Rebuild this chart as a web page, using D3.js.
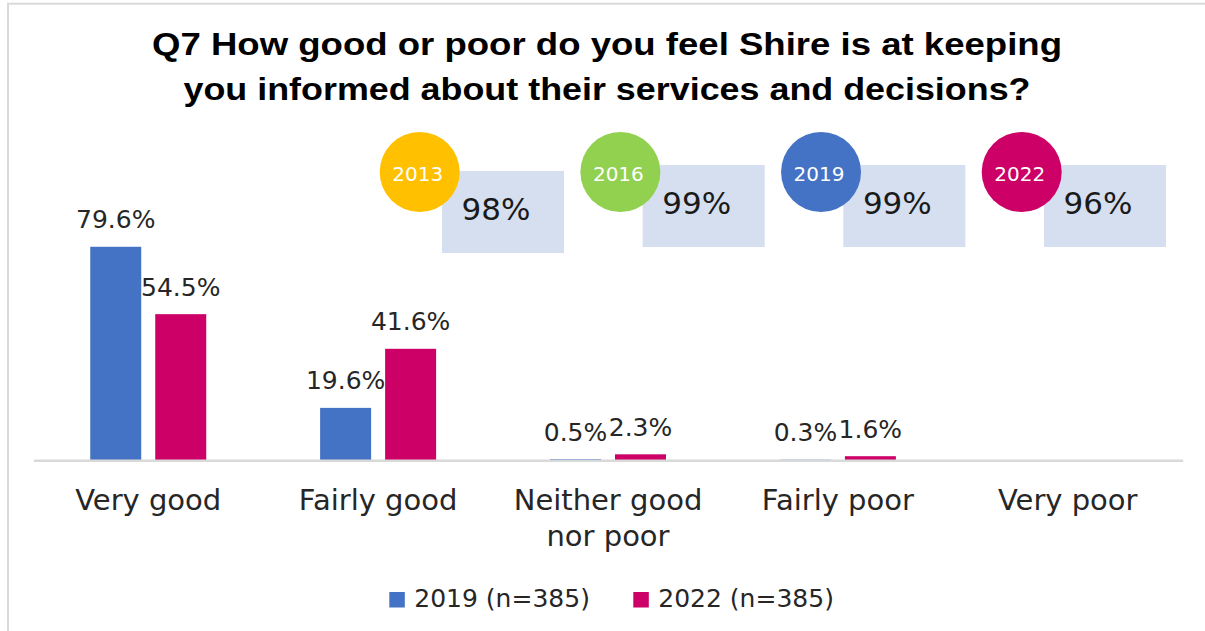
<!DOCTYPE html>
<html>
<head>
<meta charset="utf-8">
<script src="https://cdn.jsdelivr.net/npm/d3@7/dist/d3.min.js"></script>
<style>
  html, body { margin: 0; padding: 0; background: #fff; }
  svg { display: block; }
  text { font-family: "DejaVu Sans", "Noto Sans", sans-serif; }
</style>
</head>
<body>
<svg id="chart" width="1205" height="631"></svg>
<script>
// Survey responses, % of respondents
const categories = ["Very good", "Fairly good", "Neither good\nnor poor", "Fairly poor", "Very poor"];
const seriesNames = ["2019 (n=385)", "2022 (n=385)"];
const values2019 = [79.6, 19.6, 0.5, 0.3, null];
const values2022 = [54.5, 41.6, 2.3, 1.6, null];
const seriesColors = ["#4472C4", "#CC0066"];

// Share rating "good" overall, by survey year
const years = ["2013", "2016", "2019", "2022"];
const goodShare = [98, 99, 99, 96];
const yearColors = ["#FFC000", "#92D050", "#4472C4", "#CC0066"];

const titleLines = [
  "Q7 How good or poor do you feel Shire is at keeping",
  "you informed about their services and decisions?"
];

const svg = d3.select("#chart");
const W = 1205, H = 631;

// outer frame
svg.append("rect")
  .attr("x", 8).attr("y", 3.7)
  .attr("width", W + 20).attr("height", H + 20)
  .attr("fill", "#fff")
  .attr("stroke", "#d9d9d9").attr("stroke-width", 2);

// title
const titleWidths = [910, 847];
svg.append("g").selectAll("text")
  .data(titleLines)
  .join("text")
  .attr("x", 607)
  .attr("y", (d, i) => 55 + i * 45)
  .attr("text-anchor", "middle")
  .attr("textLength", (d, i) => titleWidths[i])
  .attr("lengthAdjust", "spacingAndGlyphs")
  .style("font-family", "'Liberation Sans', Arial, sans-serif")
  .style("font-weight", "bold")
  .style("font-size", "32px")
  .attr("fill", "#000")
  .text(d => d);

// plot geometry
const plotLeft = 33.3, plotRight = 1182.7, baseY = 460.5;

const x0 = d3.scaleBand().domain(categories).range([plotLeft, plotRight]).paddingInner(0).paddingOuter(0);
const groupW = 116;
const x1 = d3.scaleBand().domain(seriesNames).range([0, groupW]).paddingInner(14 / 65);
const y = d3.scaleLinear().domain([0, 80]).range([baseY, baseY - 214.8]);

const rows = categories.map((c, i) => ({
  cat: c,
  vals: [values2019[i], values2022[i]]
}));

const groups = svg.append("g").selectAll("g")
  .data(rows)
  .join("g")
  .attr("transform", d => `translate(${x0(d.cat) + (x0.bandwidth() - groupW) / 2},0)`);

const cells = d => d.vals.map((v, j) => ({ v, s: seriesNames[j], j })).filter(e => e.v != null);

groups.selectAll("rect")
  .data(cells)
  .join("rect")
  .attr("x", d => x1(d.s))
  .attr("width", x1.bandwidth())
  .attr("y", d => y(d.v))
  .attr("height", d => baseY - y(d.v))
  .attr("fill", d => seriesColors[d.j]);

groups.selectAll("text")
  .data(cells)
  .join("text")
  .attr("x", d => x1(d.s) + x1.bandwidth() / 2)
  .attr("y", d => y(d.v) - 18.5)
  .attr("text-anchor", "middle")
  .style("font-size", "25px")
  .attr("fill", "#262626")
  .text(d => d3.format(".1f")(d.v) + "%");

// category axis
const xAxis = svg.append("g")
  .attr("transform", `translate(0,${baseY - 0.2})`)
  .call(d3.axisBottom(x0).tickSize(0).tickPadding(0));
xAxis.select(".domain").attr("stroke", "#d9d9d9").attr("stroke-width", 2.6);
xAxis.selectAll(".tick text").each(function (d) {
  const t = d3.select(this);
  t.text(null)
    .attr("y", 0).attr("dy", null)
    .style("font-size", "29px")
    .style("font-family", "'DejaVu Sans', sans-serif")
    .attr("fill", "#262626");
  d.split("\n").forEach((line, k) => {
    t.append("tspan").attr("x", 0).attr("y", 50 + k * 36).text(line);
  });
});

// year badges with overall rating
const xb = d3.scalePoint().domain(years).range([419.7, 1021.7]);
const badges = svg.append("g").selectAll("g")
  .data(years.map((yr, i) => ({ yr, v: goodShare[i], c: yearColors[i], dy: i === 0 ? 6 : 0 })))
  .join("g")
  .attr("transform", d => `translate(${xb(d.yr)},172)`);

badges.append("rect")
  .attr("x", 22.3)
  .attr("y", d => -7 + d.dy)
  .attr("width", 122)
  .attr("height", 82)
  .attr("fill", "#D5DFEF");

badges.append("text")
  .attr("x", 22.3 + 54)
  .attr("y", d => 42 + d.dy)
  .attr("text-anchor", "middle")
  .style("font-size", "31px")
  .attr("fill", "#1a1a1a")
  .text(d => d.v + "%");

badges.append("circle")
  .attr("r", 40)
  .attr("fill", d => d.c);

badges.append("text")
  .attr("x", -2)
  .attr("y", 9)
  .attr("text-anchor", "middle")
  .style("font-size", "20px")
  .attr("fill", "#fff")
  .text(d => d.yr);

// legend
const legendX = [389.3, 633.3];
const legend = svg.append("g").selectAll("g")
  .data(seriesNames)
  .join("g")
  .attr("transform", (d, i) => `translate(${legendX[i]},0)`);
legend.append("rect")
  .attr("x", 0).attr("y", 592)
  .attr("width", 15.5).attr("height", 15.5)
  .attr("fill", (d, i) => seriesColors[i]);
legend.append("text")
  .attr("x", 25).attr("y", 606.5)
  .style("font-size", "25px")
  .attr("fill", "#262626")
  .text(d => d);
</script>
</body>
</html>
